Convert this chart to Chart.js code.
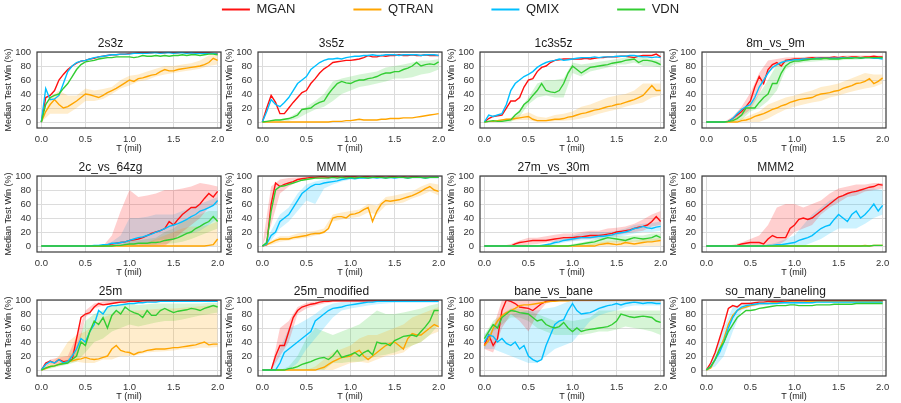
<!DOCTYPE html>
<html>
<head>
<meta charset="utf-8">
<script src="https://cdn.jsdelivr.net/npm/chart.js@4.4.1/dist/chart.umd.min.js"></script>
<style>
  html, body { margin: 0; padding: 0; background: #fff; }
  body { width: 901px; height: 403px; position: relative; overflow: hidden; }
  canvas { position: absolute; }
</style>
</head>
<body>
<script>
// Series and axes
const series = ['MGAN', 'QTRAN', 'QMIX', 'VDN'];
const colors = ['#ff1010', '#ffa500', '#00bfff', '#32cd32'];
const bandColors = ['rgba(255,16,16,0.2)', 'rgba(255,165,0,0.2)', 'rgba(0,191,255,0.2)', 'rgba(50,205,50,0.2)'];
const xTicks = [0, 0.5, 1.0, 1.5, 2.0];
const yTicks = [0, 20, 40, 60, 80, 100];

// Timesteps (million) for the median lines and for the spread bands
const T = [0.00, 0.05, 0.10, 0.15, 0.20, 0.25, 0.30, 0.35, 0.40, 0.45,
           0.50, 0.55, 0.60, 0.65, 0.70, 0.75, 0.80, 0.85, 0.90, 0.95,
           1.00, 1.05, 1.10, 1.15, 1.20, 1.25, 1.30, 1.35, 1.40, 1.45,
           1.50, 1.55, 1.60, 1.65, 1.70, 1.75, 1.80, 1.85, 1.90, 1.95, 2.00];
const TB = [0.0, 0.1, 0.2, 0.3, 0.4, 0.5, 0.6, 0.7, 0.8, 0.9,
            1.0, 1.1, 1.2, 1.3, 1.4, 1.5, 1.6, 1.7, 1.8, 1.9, 2.0];

// ---- 2s3z
const mgan_2s3z = [0, 35, 38, 45, 60, 68, 75, 80, 84, 87, 88, 90, 91, 93, 94, 95, 96, 96, 97, 97,
  98, 98, 99, 99, 99, 99, 100, 99, 99, 100, 99, 99, 100, 99, 99, 99, 100, 99, 99, 98, 98];
const qtran_2s3z = [0, 15, 25, 32, 25, 20, 22, 26, 30, 35, 40, 39, 37, 35, 38, 42, 45, 48, 52, 56,
  60, 58, 62, 63, 65, 67, 68, 72, 75, 73, 73, 75, 76, 77, 78, 79, 80, 82, 85, 91, 88];
const qmix_2s3z = [0, 48, 32, 33, 38, 55, 72, 80, 85, 87, 88, 90, 92, 93, 94, 95, 96, 96, 97, 97,
  97, 98, 98, 98, 98, 99, 99, 98, 99, 99, 98, 99, 99, 98, 99, 98, 98, 98, 98, 98, 97];
const vdn_2s3z = [0, 25, 35, 38, 40, 48, 55, 65, 75, 82, 86, 87, 88, 90, 91, 92, 92, 93, 93, 93,
  93, 92, 93, 95, 94, 94, 95, 94, 95, 94, 95, 95, 96, 95, 96, 96, 95, 96, 97, 97, 96];
const qtranLo_2s3z = [0, 12, 12, 12, 20, 30, 30, 33, 40, 48, 52, 58, 60, 65, 68, 70, 72, 74, 76, 80, 82];
const qtranHi_2s3z = [0, 35, 45, 38, 38, 48, 45, 47, 50, 60, 66, 68, 72, 76, 80, 80, 82, 84, 88, 95, 96];

// ---- 3s5z
const mgan_3s5z = [0, 20, 38, 28, 12, 12, 20, 28, 35, 42, 45, 55, 62, 70, 76, 80, 85, 86, 87, 88,
  88, 89, 90, 92, 95, 93, 93, 95, 94, 95, 95, 96, 95, 95, 96, 95, 95, 96, 95, 95, 95];
const qtran_3s5z = [0, 0, 0, 0, 0, 0, 0, 0, 0, 0, 0, 0, 0, 0, 0, 0, 1, 1, 1, 2,
  2, 3, 4, 3, 3, 3, 3, 4, 4, 5, 5, 5, 6, 6, 6, 7, 8, 9, 10, 11, 12];
const qmix_3s5z = [0, 15, 32, 25, 22, 28, 35, 45, 55, 60, 65, 75, 80, 85, 88, 90, 90, 91, 90, 92,
  93, 94, 94, 95, 95, 96, 95, 95, 96, 96, 96, 95, 96, 96, 96, 96, 95, 96, 96, 96, 95];
const vdn_3s5z = [0, 1, 2, 3, 3, 4, 5, 7, 10, 18, 19, 20, 25, 28, 30, 40, 48, 55, 58, 56,
  55, 58, 60, 60, 62, 63, 65, 68, 70, 70, 72, 72, 75, 77, 80, 85, 80, 82, 83, 82, 86];
const vdnLo_3s5z = [0, 1, 2, 2, 5, 12, 18, 22, 30, 40, 45, 50, 52, 55, 58, 62, 62, 64, 68, 70, 75];
const vdnHi_3s5z = [0, 2, 4, 6, 14, 22, 30, 40, 58, 62, 65, 68, 70, 72, 78, 80, 82, 85, 88, 88, 90];

// ---- 1c3s5z
const mgan_1c3s5z = [0, 5, 8, 9, 10, 20, 30, 30, 35, 50, 60, 62, 72, 78, 80, 85, 88, 89, 90, 90,
  90, 90, 90, 91, 90, 91, 92, 92, 93, 93, 93, 94, 94, 93, 92, 94, 95, 95, 95, 97, 93];
const qtran_1c3s5z = [0, 1, 1, 2, 3, 4, 4, 5, 6, 7, 8, 4, 2, 2, 2, 3, 4, 4, 5, 7,
  8, 10, 12, 13, 15, 17, 18, 20, 22, 23, 25, 26, 28, 30, 32, 35, 38, 45, 52, 45, 45];
const qmix_1c3s5z = [0, 10, 8, 10, 12, 25, 45, 55, 60, 65, 68, 72, 78, 82, 85, 87, 88, 90, 88, 89,
  90, 91, 92, 92, 92, 93, 92, 93, 93, 93, 94, 94, 94, 95, 95, 94, 93, 93, 92, 93, 92];
const vdn_1c3s5z = [0, 1, 2, 1, 1, 2, 3, 10, 15, 25, 30, 38, 45, 55, 45, 43, 42, 45, 55, 70,
  80, 75, 70, 74, 78, 79, 80, 81, 82, 84, 85, 86, 88, 89, 90, 85, 88, 88, 87, 85, 82];
const qtranLo_1c3s5z = [0, 0, 1, 2, 3, 3, 0, 0, 1, 2, 3, 5, 8, 12, 15, 18, 22, 25, 28, 35, 38];
const qtranHi_1c3s5z = [0, 2, 4, 6, 10, 14, 8, 6, 10, 12, 15, 22, 25, 30, 35, 38, 40, 45, 55, 55, 55];
const vdnLo_1c3s5z = [0, 0, 0, 0, 8, 25, 35, 38, 35, 35, 70, 65, 72, 75, 78, 82, 82, 85, 80, 80, 78];
const vdnHi_1c3s5z = [0, 2, 2, 5, 18, 35, 55, 60, 60, 62, 85, 82, 84, 86, 88, 90, 92, 94, 92, 90, 88];

// ---- 8m_vs_9m
const mgan_8m9m = [0, 0, 0, 0, 0, 1, 5, 10, 15, 22, 30, 50, 65, 55, 75, 82, 85, 80, 88, 89,
  90, 90, 90, 91, 92, 91, 92, 92, 92, 93, 92, 93, 92, 93, 93, 92, 93, 93, 94, 93, 93];
const qtran_8m9m = [0, 0, 0, 0, 0, 0, 0, 0, 2, 3, 5, 8, 10, 12, 15, 18, 20, 23, 25, 28,
  30, 32, 33, 34, 35, 38, 40, 41, 42, 44, 45, 48, 50, 52, 55, 56, 58, 62, 55, 58, 63];
const qmix_8m9m = [0, 0, 0, 0, 0, 1, 5, 12, 18, 22, 25, 35, 50, 60, 70, 78, 82, 85, 87, 88,
  89, 89, 90, 90, 90, 91, 91, 91, 91, 91, 91, 92, 91, 92, 92, 91, 92, 92, 91, 91, 90];
const vdn_8m9m = [0, 0, 0, 0, 0, 1, 2, 5, 10, 20, 20, 20, 28, 35, 40, 55, 55, 70, 80, 85,
  87, 87, 88, 89, 90, 90, 90, 91, 90, 90, 90, 91, 91, 91, 92, 91, 92, 92, 92, 92, 92];
const qtranLo_8m9m = [0, 0, 0, 0, 0, 0, 0, 5, 12, 18, 22, 25, 28, 30, 35, 38, 42, 45, 48, 50, 55];
const qtranHi_8m9m = [0, 0, 0, 2, 5, 10, 15, 25, 30, 35, 38, 42, 45, 50, 52, 55, 60, 65, 70, 68, 68];
const mganLo_8m9m = [0, 0, 0, 2, 8, 18, 40, 70, 80, 85, 88, 89, 90, 90, 90, 90, 91, 91, 91, 91, 91];
const mganHi_8m9m = [0, 0, 0, 8, 22, 42, 70, 88, 90, 92, 93, 93, 94, 94, 94, 94, 95, 95, 95, 95, 95];
const vdnLo_8m9m = [0, 0, 0, 0, 3, 15, 20, 30, 45, 75, 83, 85, 86, 87, 88, 88, 89, 89, 90, 90, 90];
const vdnHi_8m9m = [0, 0, 0, 4, 15, 25, 40, 60, 82, 90, 90, 92, 92, 93, 93, 93, 94, 94, 94, 94, 94];

// ---- 2c_vs_64zg
const mgan_2c64zg = [0, 0, 0, 0, 0, 0, 0, 0, 0, 0, 0, 0, 0, 0, 0, 1, 3, 4, 5, 6,
  8, 9, 10, 12, 15, 18, 20, 22, 25, 35, 30, 38, 45, 50, 55, 55, 60, 68, 75, 70, 78];
const qtran_2c64zg = [0, 0, 0, 0, 0, 0, 0, 0, 0, 0, 0, 0, 0, 0, 0, 0, 0, 0, 0, 0,
  0, 0, 0, 0, 0, 0, 0, 0, 0, 0, 0, 0, 0, 0, 0, 0, 0, 0, 1, 2, 10];
const qmix_2c64zg = [0, 0, 0, 0, 0, 0, 0, 0, 0, 0, 0, 0, 1, 1, 2, 2, 4, 4, 5, 6,
  8, 10, 12, 13, 15, 17, 20, 22, 25, 28, 30, 32, 35, 38, 42, 45, 50, 52, 55, 58, 65];
const vdn_2c64zg = [0, 0, 0, 0, 0, 0, 0, 0, 0, 0, 0, 0, 0, 0, 0, 0, 0, 1, 1, 2,
  3, 3, 4, 4, 4, 5, 5, 6, 8, 9, 10, 12, 15, 18, 20, 25, 28, 32, 35, 42, 35];
const mganLo_2c64zg = [0, 0, 0, 0, 0, 0, 0, 0, 0, 0, 0, 0, 0, 0, 0, 10, 20, 30, 40, 55, 60];
const mganHi_2c64zg = [0, 0, 0, 0, 0, 0, 0, 0, 15, 50, 80, 70, 72, 75, 80, 80, 82, 85, 90, 88, 85];
const qtranLo_2c64zg = [0, 0, 0, 0, 0, 0, 0, 0, 0, 0, 0, 0, 0, 0, 0, 0, 0, 0, 0, 0, 0];
const qtranHi_2c64zg = [0, 0, 0, 0, 0, 0, 0, 0, 0, 0, 0, 2, 5, 10, 15, 20, 25, 28, 28, 30, 35];
const qmixLo_2c64zg = [0, 0, 0, 0, 0, 0, 0, 0, 0, 0, 2, 3, 5, 8, 10, 12, 15, 18, 22, 30, 40];
const qmixHi_2c64zg = [0, 0, 0, 0, 0, 0, 0, 2, 6, 15, 40, 40, 42, 45, 45, 45, 50, 55, 60, 65, 70];
const vdnLo_2c64zg = [0, 0, 0, 0, 0, 0, 0, 0, 0, 0, 0, 0, 1, 2, 3, 4, 6, 10, 15, 20, 25];
const vdnHi_2c64zg = [0, 0, 0, 0, 0, 0, 0, 0, 0, 2, 8, 8, 10, 12, 20, 25, 35, 40, 45, 50, 50];

// ---- MMM
const mgan_MMM = [0, 2, 60, 90, 85, 88, 90, 92, 95, 96, 97, 98, 98, 99, 99, 98, 99, 99, 98, 99,
  99, 99, 98, 99, 99, 98, 99, 99, 98, 99, 99, 98, 99, 98, 99, 99, 98, 98, 98, 98, 98];
const qtran_MMM = [0, 2, 5, 8, 10, 10, 10, 12, 13, 14, 15, 17, 18, 18, 20, 25, 40, 42, 42, 40,
  45, 46, 48, 52, 55, 35, 50, 60, 65, 64, 65, 66, 68, 70, 72, 75, 78, 82, 85, 80, 78];
const qmix_MMM = [0, 3, 15, 20, 35, 40, 45, 55, 65, 75, 80, 85, 88, 88, 90, 91, 92, 93, 95, 96,
  97, 96, 97, 97, 97, 98, 97, 98, 97, 98, 97, 98, 98, 97, 98, 98, 98, 97, 98, 98, 98];
const vdn_MMM = [0, 5, 50, 80, 85, 86, 88, 90, 92, 94, 95, 96, 97, 97, 97, 97, 98, 97, 98, 97,
  98, 97, 98, 98, 97, 98, 98, 98, 97, 98, 98, 98, 98, 97, 98, 98, 98, 97, 98, 98, 98];
const mganLo_MMM = [0, 30, 75, 85, 92, 95, 96, 97, 97, 97, 97, 97, 97, 97, 97, 97, 97, 97, 97, 97, 97];
const mganHi_MMM = [0, 85, 95, 97, 98, 99, 100, 100, 100, 100, 100, 100, 100, 100, 100, 100, 100, 100, 100, 100, 100];
const qtranLo_MMM = [0, 2, 6, 8, 10, 12, 15, 18, 35, 38, 40, 42, 48, 45, 58, 60, 62, 68, 72, 78, 72];
const qtranHi_MMM = [0, 8, 14, 14, 18, 20, 22, 25, 45, 48, 50, 52, 60, 58, 70, 72, 75, 78, 85, 90, 88];
const qmixLo_MMM = [0, 8, 25, 35, 50, 65, 60, 82, 88, 92, 95, 96, 96, 96, 96, 96, 96, 96, 96, 96, 96];
const qmixHi_MMM = [0, 22, 45, 55, 75, 88, 92, 95, 97, 98, 99, 99, 99, 99, 99, 99, 99, 99, 99, 99, 99];

// ---- 27m_vs_30m
const mgan_27m30m = [0, 0, 0, 0, 0, 0, 0, 3, 5, 6, 7, 8, 8, 8, 8, 9, 10, 11, 12, 12,
  12, 13, 13, 14, 15, 15, 15, 16, 17, 18, 20, 21, 22, 23, 25, 27, 28, 30, 35, 42, 35];
const qtran_27m30m = [0, 0, 0, 0, 0, 0, 0, 0, 0, 0, 0, 0, 0, 0, 0, 0, 0, 0, 0, 0,
  0, 0, 0, 0, 0, 0, 2, 3, 4, 3, 2, 3, 5, 4, 3, 4, 5, 6, 6, 7, 8];
const qmix_27m30m = [0, 0, 0, 0, 0, 0, 0, 0, 0, 0, 0, 0, 0, 1, 2, 3, 5, 6, 8, 9,
  10, 11, 12, 12, 12, 13, 14, 14, 15, 16, 18, 19, 20, 22, 25, 26, 28, 26, 25, 27, 28];
const vdn_27m30m = [0, 0, 0, 0, 0, 0, 0, 0, 0, 0, 0, 0, 0, 0, 0, 0, 0, 0, 0, 0,
  1, 2, 3, 4, 5, 6, 8, 10, 12, 11, 10, 9, 8, 10, 12, 11, 10, 11, 12, 15, 12];
const mganLo_27m30m = [0, 0, 0, 0, 0, 2, 3, 5, 6, 8, 8, 10, 10, 12, 14, 15, 18, 20, 22, 28, 30];
const mganHi_27m30m = [0, 0, 0, 3, 8, 12, 12, 14, 16, 18, 18, 20, 22, 22, 25, 26, 28, 32, 38, 45, 50];
const qmixLo_27m30m = [0, 0, 0, 0, 0, 0, 0, 0, 2, 5, 7, 8, 9, 10, 11, 13, 15, 18, 20, 20, 22];
const qmixHi_27m30m = [0, 0, 0, 0, 0, 0, 0, 2, 8, 12, 15, 18, 20, 20, 20, 22, 25, 30, 32, 33, 35];
const vdnLo_27m30m = [0, 0, 0, 0, 0, 0, 0, 0, 0, 0, 0, 0, 0, 3, 5, 5, 5, 6, 6, 7, 8];
const vdnHi_27m30m = [0, 0, 0, 0, 0, 0, 0, 0, 0, 0, 3, 5, 8, 12, 16, 15, 14, 15, 15, 18, 18];
const qtranLo_27m30m = [0, 0, 0, 0, 0, 0, 0, 0, 0, 0, 0, 0, 0, 0, 0, 0, 0, 0, 0, 0, 0];
const qtranHi_27m30m = [0, 0, 0, 0, 0, 0, 0, 0, 0, 0, 0, 0, 3, 5, 7, 7, 8, 8, 10, 10, 12];

// ---- MMM2
const mgan_MMM2 = [0, 0, 0, 0, 0, 0, 0, 1, 3, 4, 5, 5, 5, 3, 10, 15, 12, 12, 12, 25,
  30, 38, 40, 38, 40, 45, 50, 55, 60, 65, 70, 72, 75, 77, 78, 80, 82, 84, 85, 88, 87];
const qtran_MMM2 = [0, 0, 0, 0, 0, 0, 0, 0, 0, 0, 0, 0, 0, 0, 0, 0, 0, 0, 0, 0,
  0, 0, 0, 0, 0, 0, 0, 0, 0, 0, 0, 0, 0, 0, 0, 0, 1, 0, 1, 1, 1];
const qmix_MMM2 = [0, 0, 0, 0, 0, 0, 0, 0, 0, 0, 0, 0, 0, 0, 1, 1, 2, 2, 3, 4,
  5, 8, 10, 12, 15, 20, 25, 28, 30, 38, 45, 40, 35, 45, 50, 40, 45, 52, 60, 50, 58];
const vdn_MMM2 = [0, 0, 0, 0, 0, 0, 0, 0, 0, 0, 0, 0, 0, 0, 0, 0, 0, 0, 0, 0,
  0, 0, 0, 0, 0, 0, 0, 0, 0, 0, 0, 0, 0, 0, 0, 0, 0, 0, 1, 1, 1];
const mganLo_MMM2 = [0, 0, 0, 0, 0, 0, 0, 0, 0, 8, 20, 25, 30, 45, 55, 62, 70, 72, 78, 80, 82];
const mganHi_MMM2 = [0, 0, 0, 2, 5, 10, 15, 30, 55, 60, 60, 55, 60, 65, 75, 82, 85, 88, 88, 90, 90];
const qmixLo_MMM2 = [0, 0, 0, 0, 0, 0, 0, 0, 0, 0, 0, 0, 5, 10, 18, 25, 25, 25, 32, 40, 45];
const qmixHi_MMM2 = [0, 0, 0, 0, 0, 0, 0, 2, 5, 10, 15, 30, 45, 55, 65, 70, 75, 80, 82, 82, 80];

// ---- 25m
const mgan_25m = [0, 10, 13, 10, 15, 12, 13, 15, 45, 75, 80, 82, 90, 95, 93, 94, 95, 96, 97, 97,
  98, 98, 98, 99, 99, 99, 99, 99, 99, 99, 99, 99, 99, 99, 99, 99, 99, 99, 99, 99, 99];
const qtran_25m = [0, 2, 5, 6, 8, 10, 12, 13, 15, 16, 18, 16, 15, 16, 18, 20, 30, 35, 28, 26,
  25, 22, 25, 26, 28, 29, 30, 30, 30, 31, 32, 32, 33, 34, 35, 36, 38, 40, 36, 37, 37];
const qmix_25m = [0, 8, 12, 10, 15, 10, 12, 20, 30, 45, 40, 55, 65, 85, 80, 90, 92, 92, 93, 94,
  95, 95, 96, 96, 97, 97, 97, 98, 98, 98, 98, 98, 98, 98, 98, 98, 98, 98, 98, 98, 98];
const vdn_25m = [0, 3, 5, 6, 8, 9, 10, 15, 20, 40, 35, 55, 70, 65, 75, 60, 78, 85, 80, 90,
  85, 82, 80, 75, 85, 78, 78, 85, 88, 85, 82, 84, 85, 86, 88, 87, 85, 88, 90, 92, 90];
const mganLo_25m = [0, 8, 8, 10, 20, 75, 88, 92, 94, 96, 97, 98, 98, 98, 98, 98, 98, 98, 98, 98, 98];
const mganHi_25m = [0, 15, 18, 20, 48, 85, 95, 98, 99, 100, 100, 100, 100, 100, 100, 100, 100, 100, 100, 100, 100];
const qtranLo_25m = [0, 3, 6, 10, 12, 10, 10, 15, 15, 20, 20, 22, 25, 26, 27, 28, 30, 30, 32, 32, 33];
const qtranHi_25m = [0, 10, 20, 40, 50, 55, 65, 75, 80, 85, 85, 85, 86, 87, 88, 88, 89, 90, 91, 92, 92];
const vdnLo_25m = [0, 2, 5, 8, 12, 25, 40, 45, 55, 60, 65, 62, 65, 68, 70, 70, 72, 75, 78, 80, 82];
const vdnHi_25m = [0, 5, 8, 15, 35, 70, 80, 85, 92, 95, 95, 93, 94, 95, 95, 95, 95, 95, 95, 96, 96];

// ---- 25m_modified
const mgan_25mMod = [0, 0, 0, 20, 35, 35, 55, 75, 85, 90, 92, 94, 95, 97, 98, 98, 99, 99, 99, 99,
  99, 99, 99, 99, 99, 99, 99, 99, 99, 99, 99, 99, 99, 99, 99, 99, 99, 99, 99, 99, 99];
const qtran_25mMod = [0, 0, 0, 0, 0, 0, 0, 0, 0, 0, 0, 0, 0, 2, 4, 8, 12, 15, 18, 19,
  20, 25, 28, 20, 15, 20, 25, 30, 35, 38, 40, 35, 30, 45, 52, 50, 50, 55, 60, 65, 62];
const qmix_25mMod = [0, 0, 0, 0, 10, 25, 30, 35, 40, 45, 50, 55, 70, 75, 80, 85, 88, 89, 90, 92,
  93, 94, 95, 96, 97, 97, 98, 98, 98, 98, 98, 98, 98, 98, 98, 98, 98, 98, 98, 98, 98];
const vdn_25mMod = [0, 0, 0, 0, 0, 0, 2, 3, 5, 8, 10, 12, 15, 17, 18, 15, 20, 28, 18, 20,
  22, 25, 20, 25, 28, 22, 40, 38, 38, 35, 42, 45, 48, 49, 50, 48, 55, 62, 70, 85, 85];
const mganLo_25mMod = [0, 0, 20, 40, 80, 88, 92, 95, 97, 97, 97, 97, 97, 97, 97, 97, 97, 97, 97, 97, 97];
const mganHi_25mMod = [0, 0, 60, 70, 90, 96, 98, 99, 100, 100, 100, 100, 100, 100, 100, 100, 100, 100, 100, 100, 100];
const qtranLo_25mMod = [0, 0, 0, 0, 0, 0, 0, 0, 0, 5, 10, 12, 10, 15, 20, 22, 25, 35, 40, 50, 55];
const qtranHi_25mMod = [0, 0, 0, 0, 0, 0, 5, 15, 25, 30, 35, 45, 50, 50, 55, 60, 65, 75, 80, 85, 90];
const qmixLo_25mMod = [0, 0, 0, 0, 10, 30, 45, 60, 75, 85, 88, 90, 92, 94, 95, 96, 96, 96, 96, 96, 96];
const qmixHi_25mMod = [0, 0, 30, 60, 65, 72, 80, 90, 95, 97, 98, 99, 99, 99, 99, 99, 99, 99, 99, 99, 99];
const vdnLo_25mMod = [0, 0, 0, 0, 0, 0, 0, 0, 10, 10, 12, 12, 15, 20, 22, 25, 30, 35, 40, 50, 65];
const vdnHi_25mMod = [0, 0, 0, 5, 20, 45, 60, 55, 50, 55, 60, 65, 75, 85, 80, 80, 82, 85, 88, 92, 95];

// ---- bane_vs_bane
const mgan_bane = [35, 50, 35, 45, 85, 100, 98, 95, 90, 89, 88, 85, 90, 95, 98, 99, 100, 100, 100, 100,
  100, 100, 100, 100, 100, 100, 100, 100, 100, 100, 100, 100, 100, 100, 100, 100, 100, 100, 100, 100, 100];
const qtran_bane = [35, 42, 60, 70, 78, 82, 85, 88, 92, 93, 93, 94, 95, 96, 97, 98, 98, 99, 99, 99,
  100, 100, 100, 100, 100, 100, 100, 100, 100, 100, 100, 100, 100, 100, 100, 100, 100, 100, 100, 100, 100];
const qmix_bane = [40, 50, 48, 40, 45, 38, 35, 40, 30, 35, 20, 15, 12, 15, 35, 50, 65, 70, 72, 85,
  95, 85, 80, 81, 82, 85, 88, 90, 92, 93, 95, 93, 95, 96, 97, 96, 95, 96, 96, 95, 95];
const vdn_bane = [45, 55, 65, 60, 75, 80, 85, 84, 82, 81, 80, 75, 70, 72, 65, 62, 60, 62, 68, 60,
  55, 60, 55, 57, 58, 59, 60, 61, 62, 65, 70, 80, 78, 76, 75, 76, 77, 76, 75, 70, 68];
const mganLo_bane = [30, 25, 60, 80, 70, 55, 80, 95, 98, 98, 98, 98, 98, 98, 98, 98, 98, 98, 98, 98, 98];
const mganHi_bane = [40, 60, 100, 100, 100, 100, 100, 100, 100, 100, 100, 100, 100, 100, 100, 100, 100, 100, 100, 100, 100];
const qmixLo_bane = [30, 30, 25, 20, 15, 10, 10, 20, 30, 35, 40, 55, 70, 78, 82, 85, 90, 92, 92, 92, 92];
const qmixHi_bane = [50, 65, 75, 80, 82, 85, 85, 88, 90, 95, 100, 100, 100, 100, 100, 100, 100, 100, 100, 100, 100];
const vdnLo_bane = [30, 55, 65, 75, 75, 70, 60, 55, 50, 50, 50, 50, 52, 55, 55, 58, 62, 60, 58, 55, 50];
const vdnHi_bane = [50, 70, 80, 88, 88, 85, 80, 75, 70, 72, 70, 72, 75, 85, 85, 85, 85, 85, 85, 85, 85];

// ---- so_many_baneling
const mgan_soMany = [0, 10, 25, 45, 65, 88, 92, 90, 95, 95, 95, 96, 97, 97, 98, 98, 98, 98, 98, 99,
  99, 99, 99, 99, 99, 99, 99, 99, 99, 99, 99, 99, 99, 99, 99, 99, 99, 99, 99, 99, 99];
const qtran_soMany = [0, 3, 15, 30, 45, 65, 78, 85, 88, 90, 92, 93, 95, 95, 95, 96, 96, 96, 97, 97,
  97, 97, 97, 98, 98, 98, 98, 98, 98, 98, 98, 98, 98, 98, 98, 98, 98, 98, 98, 98, 98];
const qmix_soMany = [0, 5, 15, 25, 40, 60, 75, 85, 90, 92, 93, 94, 95, 95, 95, 95, 95, 96, 96, 96,
  96, 96, 96, 96, 96, 97, 97, 97, 97, 97, 97, 97, 97, 97, 97, 97, 97, 97, 97, 97, 97];
const vdn_soMany = [0, 5, 15, 30, 40, 55, 65, 75, 80, 85, 85, 86, 88, 89, 90, 91, 92, 92, 92, 93,
  93, 92, 92, 92, 92, 93, 93, 93, 93, 94, 94, 94, 94, 94, 95, 95, 95, 95, 95, 95, 95];
const qmixLo_soMany = [0, 5, 20, 55, 85, 90, 92, 93, 94, 94, 94, 94, 95, 95, 95, 95, 95, 95, 95, 95, 95];
const qmixHi_soMany = [0, 25, 60, 90, 95, 97, 98, 98, 98, 98, 98, 98, 98, 98, 98, 98, 98, 98, 98, 98, 98];

// Subplots in reading order; bands are [series index, lower, upper]
const maps = [
  { title: '2s3z', lines: [mgan_2s3z, qtran_2s3z, qmix_2s3z, vdn_2s3z],
    bands: [[1, qtranLo_2s3z, qtranHi_2s3z]] },
  { title: '3s5z', lines: [mgan_3s5z, qtran_3s5z, qmix_3s5z, vdn_3s5z],
    bands: [[3, vdnLo_3s5z, vdnHi_3s5z]] },
  { title: '1c3s5z', lines: [mgan_1c3s5z, qtran_1c3s5z, qmix_1c3s5z, vdn_1c3s5z],
    bands: [[1, qtranLo_1c3s5z, qtranHi_1c3s5z], [3, vdnLo_1c3s5z, vdnHi_1c3s5z]] },
  { title: '8m_vs_9m', lines: [mgan_8m9m, qtran_8m9m, qmix_8m9m, vdn_8m9m],
    bands: [[1, qtranLo_8m9m, qtranHi_8m9m], [0, mganLo_8m9m, mganHi_8m9m], [3, vdnLo_8m9m, vdnHi_8m9m]] },
  { title: '2c_vs_64zg', lines: [mgan_2c64zg, qtran_2c64zg, qmix_2c64zg, vdn_2c64zg],
    bands: [[0, mganLo_2c64zg, mganHi_2c64zg], [1, qtranLo_2c64zg, qtranHi_2c64zg],
            [2, qmixLo_2c64zg, qmixHi_2c64zg], [3, vdnLo_2c64zg, vdnHi_2c64zg]] },
  { title: 'MMM', lines: [mgan_MMM, qtran_MMM, qmix_MMM, vdn_MMM],
    bands: [[0, mganLo_MMM, mganHi_MMM], [1, qtranLo_MMM, qtranHi_MMM], [2, qmixLo_MMM, qmixHi_MMM]] },
  { title: '27m_vs_30m', lines: [mgan_27m30m, qtran_27m30m, qmix_27m30m, vdn_27m30m],
    bands: [[0, mganLo_27m30m, mganHi_27m30m], [1, qtranLo_27m30m, qtranHi_27m30m],
            [2, qmixLo_27m30m, qmixHi_27m30m], [3, vdnLo_27m30m, vdnHi_27m30m]] },
  { title: 'MMM2', lines: [mgan_MMM2, qtran_MMM2, qmix_MMM2, vdn_MMM2],
    bands: [[0, mganLo_MMM2, mganHi_MMM2], [2, qmixLo_MMM2, qmixHi_MMM2]] },
  { title: '25m', lines: [mgan_25m, qtran_25m, qmix_25m, vdn_25m],
    bands: [[0, mganLo_25m, mganHi_25m], [1, qtranLo_25m, qtranHi_25m], [3, vdnLo_25m, vdnHi_25m]] },
  { title: '25m_modified', lines: [mgan_25mMod, qtran_25mMod, qmix_25mMod, vdn_25mMod],
    bands: [[0, mganLo_25mMod, mganHi_25mMod], [1, qtranLo_25mMod, qtranHi_25mMod],
            [2, qmixLo_25mMod, qmixHi_25mMod], [3, vdnLo_25mMod, vdnHi_25mMod]] },
  { title: 'bane_vs_bane', lines: [mgan_bane, qtran_bane, qmix_bane, vdn_bane],
    bands: [[0, mganLo_bane, mganHi_bane], [2, qmixLo_bane, qmixHi_bane], [3, vdnLo_bane, vdnHi_bane]] },
  { title: 'so_many_baneling', lines: [mgan_soMany, qtran_soMany, qmix_soMany, vdn_soMany],
    bands: [[2, qmixLo_soMany, qmixHi_soMany]] }
];

Chart.defaults.font.family = "'Liberation Sans', Arial, sans-serif";
Chart.defaults.color = '#262626';

// layout of the grid (plot area in page pixels)
const colLeft = [37, 258, 480, 702];
const rowTop = [52, 176, 300];
const plotW = 184, plotH = 76;
const axisW = 37, titleH = 22, axisH = 28, padR = 12;

// dark frame around each plot area
const framePlugin = {
  id: 'frame',
  afterDatasetsDraw(chart) {
    const a = chart.chartArea, ctx = chart.ctx;
    ctx.save();
    ctx.strokeStyle = '#3a3a3a';
    ctx.lineWidth = 1.2;
    ctx.strokeRect(a.left, a.top, a.right - a.left, a.bottom - a.top);
    ctx.restore();
  }
};

function addCanvas(left, top, w, h) {
  const c = document.createElement('canvas');
  c.width = w; c.height = h;
  c.style.left = left + 'px'; c.style.top = top + 'px';
  c.style.width = w + 'px'; c.style.height = h + 'px';
  document.body.appendChild(c);
  return c;
}

// shared legend across the top
const legendCanvas = addCanvas(0, -55, 901, 160);
new Chart(legendCanvas, {
  type: 'line',
  data: {
    datasets: series.map((s, i) => ({ label: s, data: [], borderColor: colors[i], backgroundColor: colors[i], borderWidth: 2 }))
  },
  options: {
    responsive: false, animation: false, devicePixelRatio: 1,
    scales: { x: { display: false }, y: { display: false } },
    plugins: {
      tooltip: { enabled: false },
      legend: {
        labels: { usePointStyle: true, pointStyle: 'line', pointStyleWidth: 28, padding: 58, color: '#222', font: { size: 13 } }
      }
    }
  }
});

maps.forEach((m, k) => {
  const left = colLeft[k % 4] - axisW;
  const top = rowTop[Math.floor(k / 4)] - titleH;
  const c = addCanvas(left, top, axisW + plotW + padR, titleH + plotH + axisH);

  const datasets = [];
  m.bands.forEach(([s, lo, hi]) => {
    datasets.push({ data: TB.map((t, i) => ({ x: t, y: lo[i] })), borderWidth: 0, pointRadius: 0, fill: false, order: 10 });
    datasets.push({ data: TB.map((t, i) => ({ x: t, y: hi[i] })), borderWidth: 0, pointRadius: 0, fill: '-1',
                    backgroundColor: bandColors[s], order: 10 });
  });
  m.lines.forEach((arr, s) => {
    datasets.push({ label: series[s], data: T.map((t, i) => ({ x: t, y: arr[i] })), borderColor: colors[s],
                    borderWidth: 1.4, pointRadius: 0, fill: false, tension: 0, order: 4 - s });
  });

  new Chart(c, {
    type: 'line',
    data: { datasets },
    plugins: [framePlugin],
    options: {
      responsive: false, animation: false, devicePixelRatio: 1,
      layout: { padding: { left: 0, top: 0, bottom: 0, right: padR } },
      plugins: {
        legend: { display: false },
        tooltip: { enabled: false },
        title: { display: true, text: m.title, color: '#1a1a1a', font: { size: 12, lineHeight: 1, weight: 'normal' },
                 padding: { top: 7.5, bottom: 2.5 } }
      },
      scales: {
        x: {
          type: 'linear', min: -0.049, max: 2.038,
          afterBuildTicks: s => { s.ticks = xTicks.map(v => ({ value: v })); },
          afterFit: s => { s.height = axisH; },
          grid: { color: '#dcdcdc', lineWidth: 1, drawTicks: false },
          border: { display: false },
          ticks: { font: { size: 9.5 }, padding: 6, color: '#333', maxRotation: 0, callback: v => v.toFixed(1) },
          title: { display: true, text: 'T (mil)', color: '#1a1a1a', font: { size: 9 }, padding: { top: 0, bottom: 2.3 } }
        },
        y: {
          type: 'linear', min: -8.5, max: 100,
          afterBuildTicks: s => { s.ticks = yTicks.map(v => ({ value: v })); },
          afterFit: s => { s.width = axisW; },
          grid: { color: '#dcdcdc', lineWidth: 1, drawTicks: false },
          border: { display: false },
          ticks: { font: { size: 9.5 }, padding: 6, color: '#333', callback: v => String(v) },
          title: { display: true, text: 'Median Test Win (%)', color: '#1a1a1a', font: { size: 9 }, padding: { top: 3.6, bottom: 0 } }
        }
      }
    }
  });
});
</script>
</body>
</html>
